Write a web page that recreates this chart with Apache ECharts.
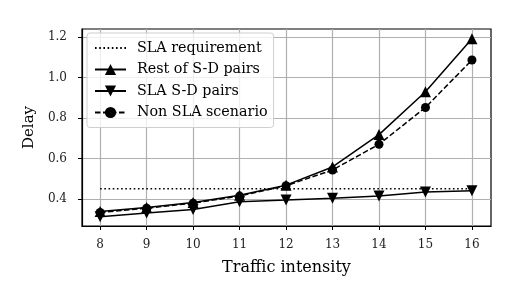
<!DOCTYPE html>
<html>
<head>
<meta charset="utf-8">
<script src="https://cdn.jsdelivr.net/npm/echarts@6/dist/echarts.min.js"></script>
<style>html,body{margin:0;padding:0;background:#fff}#c{width:521px;height:300px}</style>
</head>
<body>
<div id="c"></div>
<script>
var traffic = [8, 9, 10, 11, 12, 13, 14, 15, 16];
var slaRequirement = [0.45, 0.45, 0.45, 0.45, 0.45, 0.45, 0.45, 0.45, 0.45];
var restPairs = [0.338, 0.358, 0.382, 0.418, 0.468, 0.558, 0.718, 0.930, 1.192];
var slaPairs = [0.312, 0.330, 0.348, 0.386, 0.394, 0.403, 0.414, 0.434, 0.440];
var nonSla = [0.333, 0.354, 0.379, 0.414, 0.465, 0.543, 0.670, 0.852, 1.087];
var xTicks = [8, 9, 10, 11, 12, 13, 14, 15, 16];
var yTicks = [0.4, 0.6, 0.8, 1.0, 1.2];

function pairs(vals) { return traffic.map(function (t, i) { return [t, vals[i]]; }); }

var font = 'DejaVu Serif';
var chart = echarts.init(document.getElementById('c'), null, { renderer: 'canvas' });
var gridLine = { show: true, lineStyle: { color: '#b0b0b0', width: 1.2 } };
chart.setOption({
  animation: false,
  textStyle: { fontFamily: font, color: '#000' },
  grid: { left: 82, right: 30, top: 29, bottom: 74, show: true, borderColor: '#000', borderWidth: 1.2, backgroundColor: 'transparent' },
  legend: {
    left: 87, top: 33, orient: 'vertical', itemWidth: 31, itemHeight: 14, itemGap: 7.5,
    padding: [8, 6, 8, 7],
    backgroundColor: 'rgba(255,255,255,0.8)', borderColor: '#cfcfcf', borderWidth: 1, borderRadius: 3,
    textStyle: { fontFamily: font, fontSize: 14.3, color: '#000', padding: [0, 0, 0, 6] },
    data: [
      { name: 'SLA requirement', itemStyle: { opacity: 0 } },
      'Rest of S-D pairs', 'SLA S-D pairs', 'Non SLA scenario'
    ]
  },
  xAxis: {
    type: 'value', min: 7.61, max: 16.41,
    name: 'Traffic intensity', nameLocation: 'middle', nameGap: 34,
    nameTextStyle: { fontFamily: font, fontSize: 16, color: '#000' },
    axisLine: { show: true, lineStyle: { color: '#000', width: 1.2 } },
    axisTick: { show: true, length: 4, lineStyle: { color: '#000', width: 1 }, customValues: xTicks },
    axisLabel: { fontFamily: font, fontSize: 12, color: '#222', margin: 13, customValues: xTicks },
    splitLine: gridLine
  },
  yAxis: {
    type: 'value', min: 0.266, max: 1.24,
    name: 'Delay', nameLocation: 'middle', nameGap: 45, nameRotate: 90,
    nameTextStyle: { fontFamily: font, fontSize: 15, color: '#000' },
    axisLine: { show: true, lineStyle: { color: '#000', width: 1.2 } },
    axisTick: { show: true, length: 4, lineStyle: { color: '#000', width: 1 }, customValues: yTicks },
    axisLabel: { fontFamily: font, fontSize: 12, color: '#222', margin: 15, customValues: yTicks, formatter: function (v) { return v.toFixed(1); } },
    splitLine: gridLine
  },
  series: [
    { name: 'SLA requirement', type: 'line', data: pairs(slaRequirement), symbol: 'none', z: 3,
      lineStyle: { color: '#000', width: 1.6, type: [1.6, 2.6] }, itemStyle: { color: '#000' } },
    { name: 'Rest of S-D pairs', type: 'line', data: pairs(restPairs), symbol: 'triangle', symbolSize: 11, z: 4,
      lineStyle: { color: '#000', width: 1.5 }, itemStyle: { color: '#000' } },
    { name: 'SLA S-D pairs', type: 'line', data: pairs(slaPairs), symbol: 'triangle', symbolRotate: 180, symbolSize: 11, z: 4,
      lineStyle: { color: '#000', width: 1.5 }, itemStyle: { color: '#000' } },
    { name: 'Non SLA scenario', type: 'line', data: pairs(nonSla), symbol: 'circle', symbolSize: 9, z: 4,
      lineStyle: { color: '#000', width: 1.5, type: [5.5, 2.5] }, itemStyle: { color: '#000' } }
  ]
});
</script>
</body>
</html>
